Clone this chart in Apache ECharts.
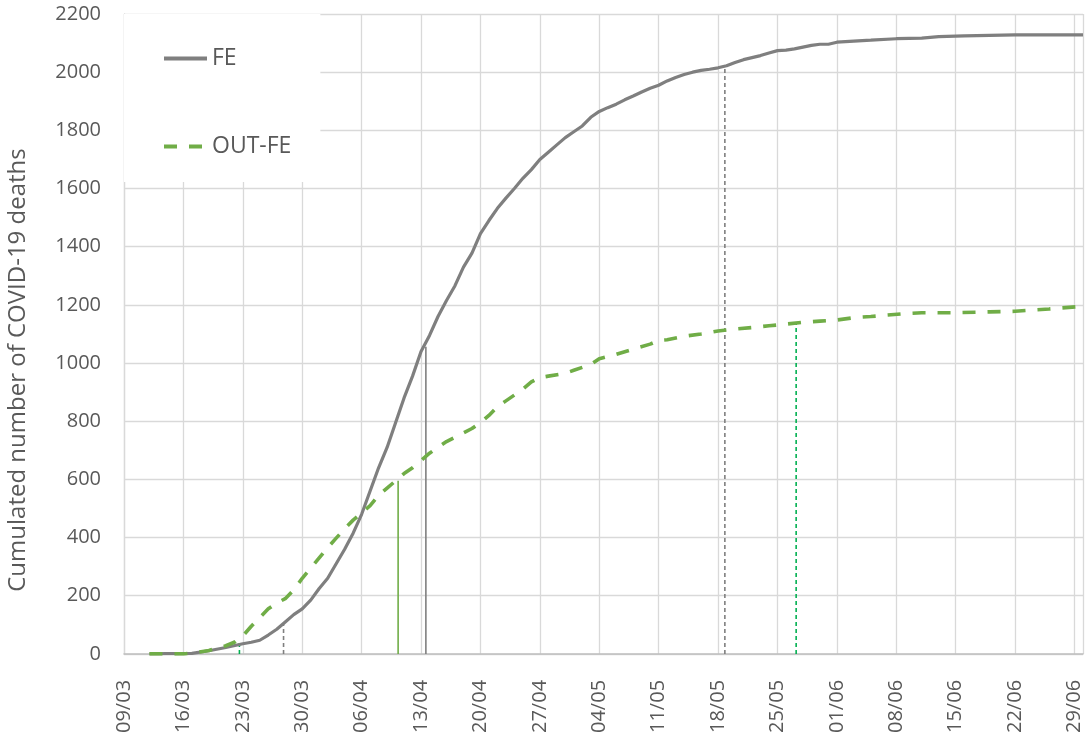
<!DOCTYPE html>
<html>
<head>
<meta charset="utf-8">
<script src="https://cdn.jsdelivr.net/npm/echarts@6/dist/echarts.min.js"></script>
<style>
html,body{margin:0;padding:0;background:#fff;}
#chart{width:1088px;height:736px;}
</style>
</head>
<body>
<div id="chart"></div>
<script>
// Day offsets are days since 09/03/2020
var startDate = [2020, 2, 9];
var yTitle = 'Cumulated number of COVID-19 deaths';
var seriesNames = ['FE', 'OUT-FE'];

var feDays = [3,5,8,10,12,14,15,16,17,18,19,20,21,22,23,24,25,26,27,28,29,30,31,32,33,34,35,36,37,38,39,40,41,42,43,44,45,46,47,48,49,50,51,52,53,54,55,56,57,58,59,60,61,62,63,64,65,66,67,68,69,70,71,72,73,74,75,76,77,78,79,80,81,82,83,84,86,88,91,94,96,99,105,113];
var feValues = [0,1,2,11,22,35,40,47,65,85,110,135,155,185,225,260,310,360,415,480,560,640,710,795,880,955,1040,1095,1160,1215,1266,1330,1378,1445,1490,1532,1567,1600,1635,1665,1700,1725,1750,1775,1795,1815,1845,1865,1878,1890,1905,1918,1932,1945,1955,1970,1982,1992,2000,2006,2010,2015,2022,2033,2043,2050,2057,2066,2074,2076,2080,2086,2092,2096,2096,2103,2107,2110,2115,2117,2122,2125,2128,2128];

var outDays = [3,7,8,10,12,13,14,15,16,17,18,19,20,21,22,23,24,25,26,27,28,29,30,31,32,33,34,35,36,37,38,39,40,41,42,43,44,45,46,47,48,49,50,52,53,55,56,58,60,62,63,64,66,68,70,72,74,76,78,80,82,84,86,88,90,92,94,98,102,105,109,113];
var outValues = [0,0,3,12,28,40,62,95,125,155,175,190,220,260,295,330,365,398,430,460,485,510,545,570,595,620,640,665,690,710,730,745,760,775,795,820,850,870,890,910,935,950,955,965,975,995,1015,1030,1048,1065,1078,1080,1092,1100,1110,1117,1122,1128,1134,1140,1144,1148,1156,1160,1165,1170,1173,1173,1176,1178,1186,1195];

// vertical reference markers
var markerDays = [13.6, 18.8, 32.3, 35.57, 70.8, 79.2];
var markerTops = [48, 106, 595, 1056, 2018, 1137];
var markerColors = ['#00b050', '#7f7f7f', '#70ad47', '#7f7f7f', '#7f7f7f', '#00b050'];
var markerTypes = ['dashed', 'dashed', 'solid', 'solid', 'dashed', 'dashed'];

var xMin = 0, xMax = 113, xStep = 7;
var yMin = 0, yMax = 2200, yStep = 200;

var FONT = '"Open Sans", sans-serif';
var TXT = '#595959';

function pairs(xs, ys) { return xs.map(function (x, i) { return [x, ys[i]]; }); }
function dayLabel(v) {
  var d = new Date(Date.UTC(startDate[0], startDate[1], startDate[2]) + v * 86400000);
  var dd = String(d.getUTCDate()).padStart(2, '0');
  var mm = String(d.getUTCMonth() + 1).padStart(2, '0');
  return dd + '/' + mm;
}

var series = [
  {
    name: seriesNames[0], type: 'line', data: pairs(feDays, feValues),
    symbol: 'none', showSymbol: false, z: 5,
    lineStyle: { color: '#7f7f7f', width: 3.2 },
    itemStyle: { color: '#7f7f7f' }
  },
  {
    name: seriesNames[1], type: 'line', data: pairs(outDays, outValues),
    symbol: 'none', showSymbol: false, z: 5,
    lineStyle: { color: '#70ad47', width: 3.6, type: [13, 12] },
    itemStyle: { color: '#70ad47' }
  }
];
markerDays.forEach(function (d, i) {
  series.push({
    type: 'line', data: [[d, 0], [d, markerTops[i]]], symbol: 'none', z: 4,
    silent: true,
    lineStyle: { color: markerColors[i], width: 1.6, type: markerTypes[i] === 'dashed' ? [4, 3] : 'solid' }
  });
});

var chart = echarts.init(document.getElementById('chart'), null, { renderer: 'canvas' });
chart.setOption({
  animation: false,
  backgroundColor: '#fff',
  grid: { left: 124, right: 5, top: 14, bottom: 80, containLabel: false },
  legend: {
    data: seriesNames, orient: 'vertical', left: 124, top: 14,
    backgroundColor: '#fff', padding: [33, 29, 24, 38], itemGap: 65,
    itemWidth: 43, itemHeight: 14,
    itemStyle: { opacity: 0, borderWidth: 0 },
    lineStyle: { width: 4 },
    textStyle: { fontFamily: FONT, fontSize: 23, color: TXT }
  },
  xAxis: {
    type: 'value', min: xMin, max: xMax, interval: xStep,
    axisLine: { show: true, lineStyle: { color: '#bfbfbf', width: 1.5 } },
    axisTick: { show: false },
    splitLine: { show: true, lineStyle: { color: '#d9d9d9', width: 1.3 } },
    axisLabel: {
      rotate: 90, margin: 26, showMaxLabel: false,
      fontFamily: FONT, fontSize: 20, color: TXT,
      formatter: function (v) { return v % xStep === 0 ? dayLabel(v) : ''; }
    }
  },
  yAxis: {
    type: 'value', min: yMin, max: yMax, interval: yStep,
    axisLine: { show: true, lineStyle: { color: '#d9d9d9', width: 1.3 } },
    axisTick: { show: false },
    splitLine: { show: true, lineStyle: { color: '#d9d9d9', width: 1.3 } },
    axisLabel: {
      margin: 23, fontFamily: FONT, fontSize: 20, color: TXT,
      formatter: function (v) { return String(v); }
    }
  },
  graphic: [{
    type: 'text', x: 18, y: 370, rotation: Math.PI / 2,
    style: {
      text: yTitle, fontFamily: FONT, fontSize: 24, fill: TXT,
      align: 'center', verticalAlign: 'middle'
    }
  }],
  series: series
});
</script>
</body>
</html>
